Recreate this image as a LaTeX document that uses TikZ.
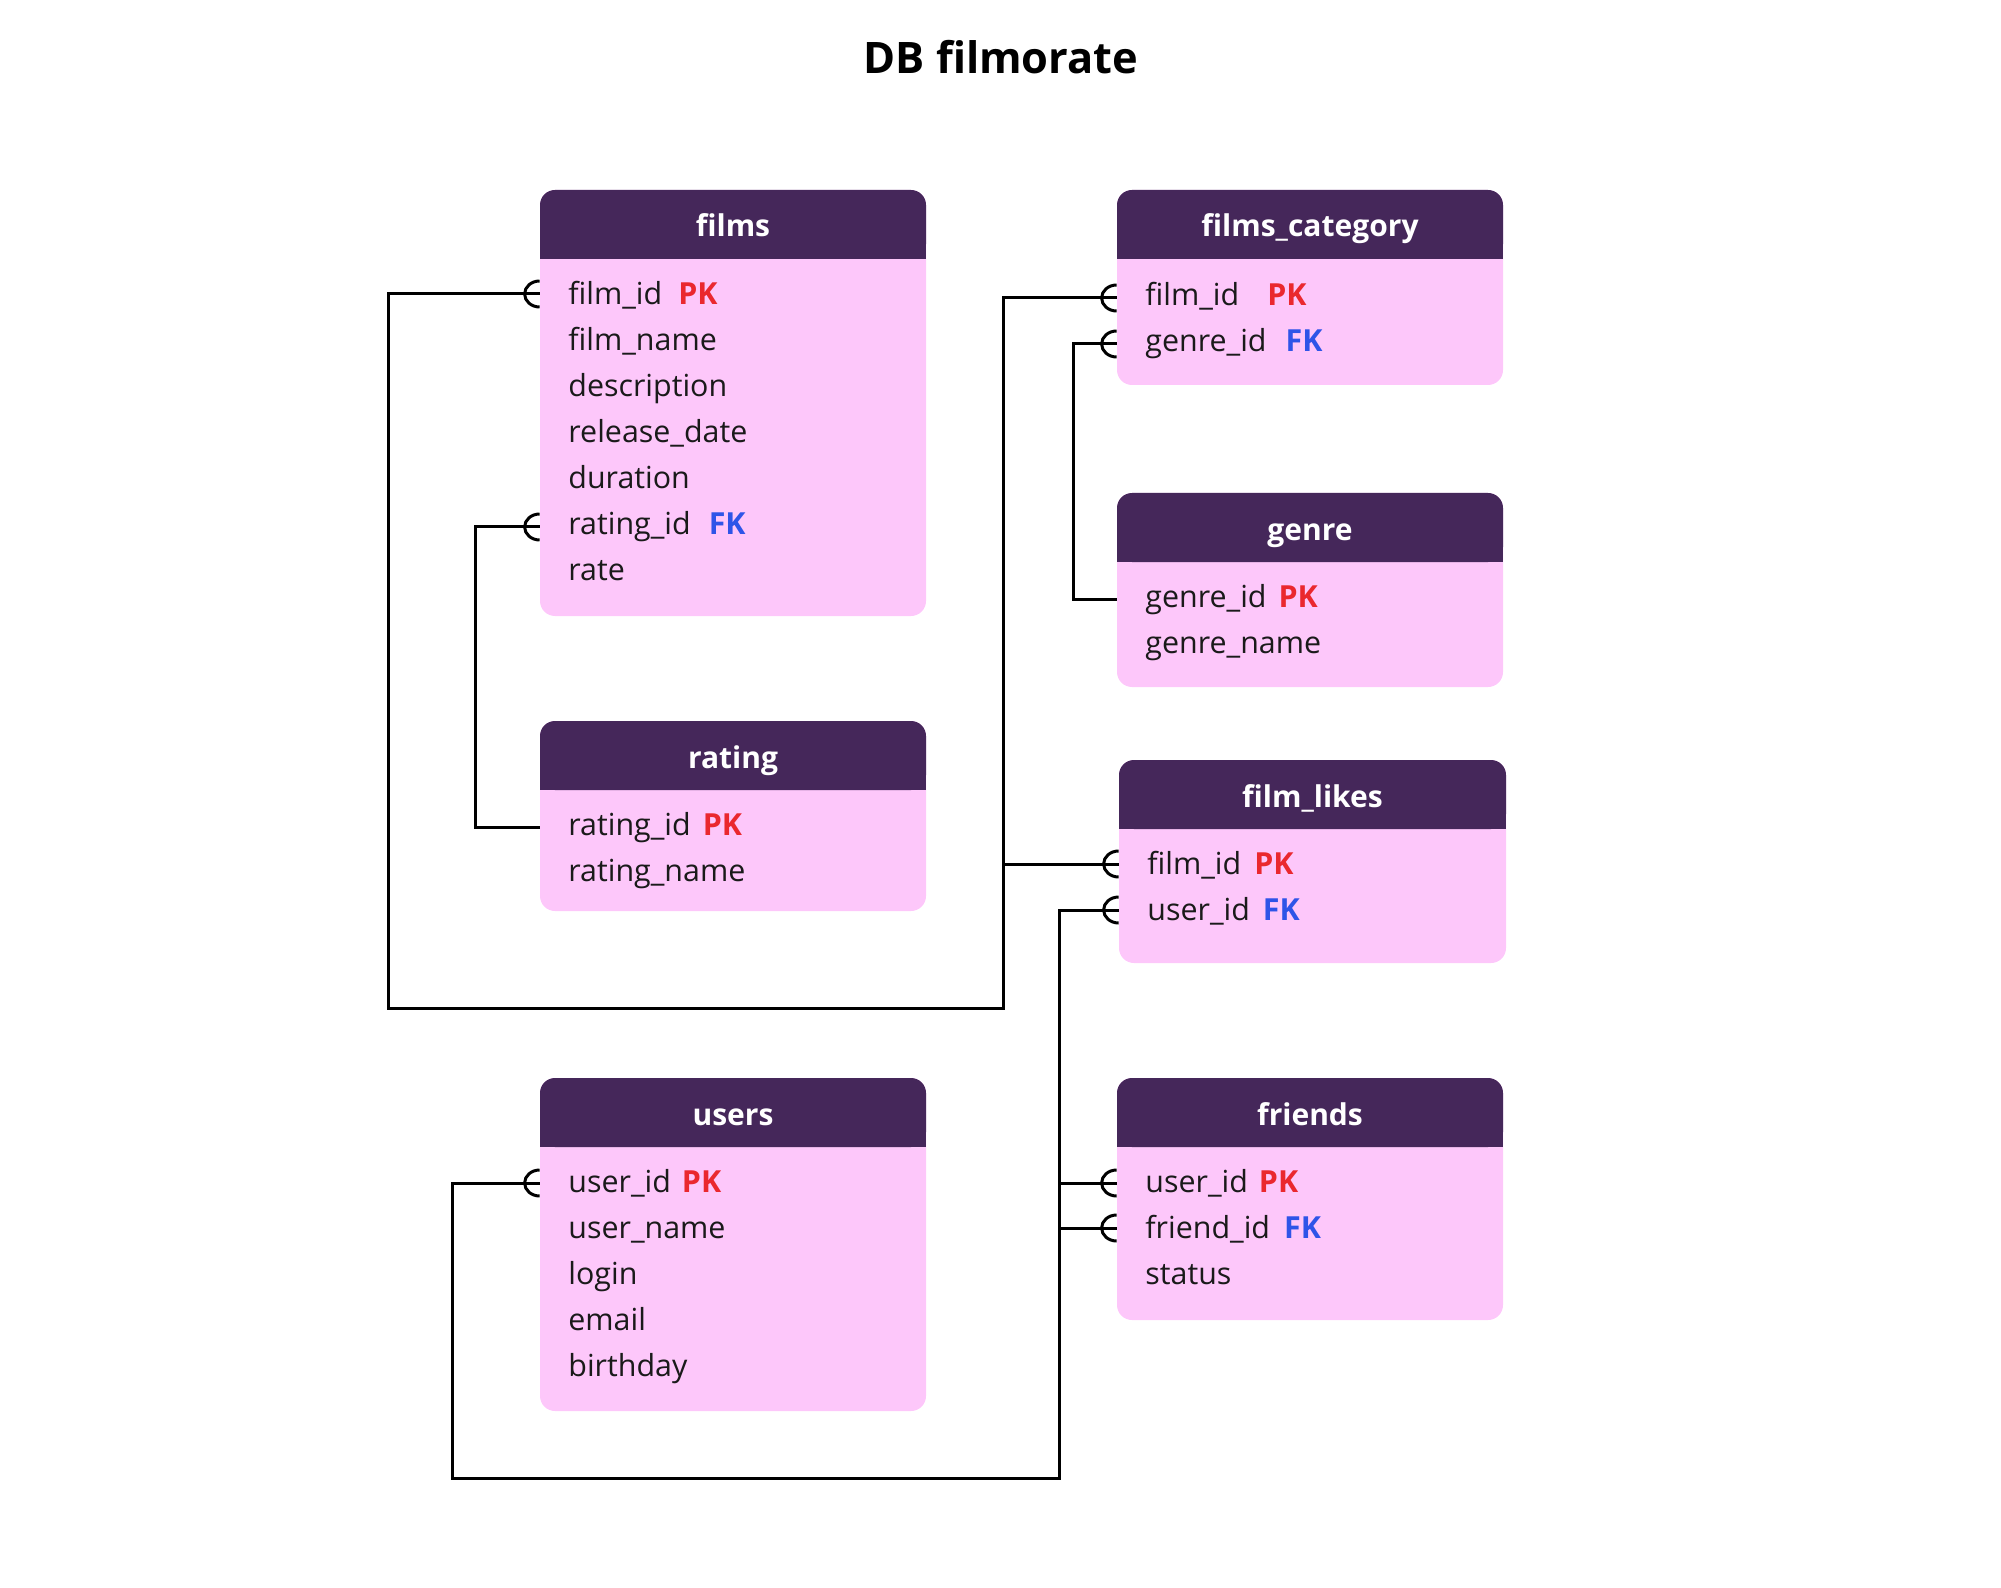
\documentclass[tikz,border=0pt]{standalone}
\usepackage{fontspec}
\setmainfont{Open Sans}
\usetikzlibrary{fit,calc}
\definecolor{hdrc}{HTML}{45275A}
\definecolor{bodyc}{HTML}{FDC7FA}
\definecolor{pkc}{HTML}{EA282E}
\definecolor{fkc}{HTML}{2E54E8}
\definecolor{txtc}{HTML}{1A1A1A}
\newcommand{\PKm}{\textcolor{pkc}{\bfseries PK}}
\newcommand{\FKm}{\textcolor{fkc}{\bfseries FK}}
% #1 name, #2 x1, #3 y1, #4 x2, #5 y2, #6 title
\newcommand{\erTable}[6]{%
  \node[tbl, fit={(#2,#3) (#4,#5)}] (#1) {};
  \fill[hdrc, rounded corners=7.5pt] (#2,#3) rectangle (#4,#3+69);
  \fill[hdrc] (#2,#3+40) rectangle (#4,#3+69);
  \node[hdrtxt] (#1-t) at ({(#2+#4)/2},#3+47) {#6};
}
\newcommand{\crowft}[1]{\draw[crowf] ([yshift=6.5pt]#1) arc[start angle=90,end angle=270,x radius=7.5pt,y radius=6.5pt];}
\begin{document}
\begin{tikzpicture}[x=0.5pt,y=-0.5pt,
  tbl/.style={fill=bodyc, rounded corners=7.5pt, inner sep=0pt, draw=none},
  hdrtxt/.style={text=white, font=\fontsize{15}{18}\selectfont\bfseries, anchor=base, inner sep=0pt},
  rowtxt/.style={text=txtc, font=\fontsize{15.2}{18}\selectfont, anchor=mid west, inner sep=0pt, yshift=-2.5pt},
  conn/.style={line width=1.5pt, black},
  crowf/.style={line width=1.5pt, black}]
\useasboundingbox (0,0) rectangle (2001,1588);

\node[anchor=base, font=\fontsize{21.7}{26}\selectfont\bfseries, inner sep=0pt] (title) at (1001,74) {DB filmorate};

% tables
\erTable{films}{540}{190}{926}{616}{films}
\node[rowtxt] (fr1) at (568,294) {film\_id\hspace{8pt}\PKm};
\node[rowtxt] (fr2) at (568,340) {film\_name};
\node[rowtxt] (fr3) at (568,386) {description};
\node[rowtxt] (fr4) at (568,432) {release\_date};
\node[rowtxt] (fr5) at (568,478) {duration};
\node[rowtxt] (fr6) at (568,524) {rating\_id\hspace{9pt}\FKm};
\node[rowtxt] (fr7) at (568,570) {rate};

\erTable{fcat}{1117}{190}{1503}{385}{films\_category}
\node[rowtxt] (cr1) at (1145,295) {film\_id\hspace{14pt}\PKm};
\node[rowtxt] (cr2) at (1145,341) {genre\_id\hspace{9.5pt}\FKm};

\erTable{genre}{1117}{493}{1503}{687}{genre}
\node[rowtxt] (gr1) at (1145,597) {genre\_id\hspace{6pt}\PKm};
\node[rowtxt] (gr2) at (1145,643) {genre\_name};

\erTable{rating}{540}{721}{926}{911}{rating}
\node[rowtxt] (rr1) at (568,825) {rating\_id\hspace{6pt}\PKm};
\node[rowtxt] (rr2) at (568,871) {rating\_name};

\erTable{flikes}{1119}{760}{1506}{963}{film\_likes}
\node[rowtxt] (lr1) at (1147,864) {film\_id\hspace{6.5pt}\PKm};
\node[rowtxt] (lr2) at (1147,910) {user\_id\hspace{6.5pt}\FKm};

\erTable{friends}{1117}{1078}{1503}{1320}{friends}
\node[rowtxt] (dr1) at (1145,1182) {user\_id\hspace{5.5pt}\PKm};
\node[rowtxt] (dr2) at (1145,1228) {friend\_id\hspace{7pt}\FKm};
\node[rowtxt] (dr3) at (1145,1274) {status};

\erTable{users}{540}{1078}{926}{1411}{users}
\node[rowtxt] (ur1) at (568,1182) {user\_id\hspace{5.5pt}\PKm};
\node[rowtxt] (ur2) at (568,1228) {user\_name};
\node[rowtxt] (ur3) at (568,1274) {login};
\node[rowtxt] (ur4) at (568,1320) {email};
\node[rowtxt] (ur5) at (568,1366) {birthday};

% attachment points (row centre lines)
\coordinate (pf1) at ($(films.west |- fr1.mid west)+(0,-5)$);
\coordinate (pf6) at ($(films.west |- fr6.mid west)+(0,-2)$);
\coordinate (pc1) at ($(fcat.west |- cr1.mid west)+(0,-2)$);
\coordinate (pc2) at ($(fcat.west |- cr2.mid west)+(0,-2)$);
\coordinate (pg1) at ($(genre.west |- gr1.mid west)+(0,-3)$);
\coordinate (pr1) at ($(rating.west |- rr1.mid west)+(0,-3)$);
\coordinate (pl1) at ($(flikes.west |- lr1.mid west)+(0,-5)$);
\coordinate (pl2) at ($(flikes.west |- lr2.mid west)+(0,-5)$);
\coordinate (pd1) at ($(friends.west |- dr1.mid west)+(0,-4)$);
\coordinate (pd2) at ($(friends.west |- dr2.mid west)+(0,-5)$);
\coordinate (pu1) at ($(users.west |- ur1.mid west)+(0,-4)$);

% bends
\coordinate (k1) at (388,1008);
\coordinate (k2) at (1003,1008);
\coordinate (k3) at (475,700);
\coordinate (k4) at (1073,450);
\coordinate (k5) at (452,1478);
\coordinate (k6) at (1059,1478);

% connectors
\draw[conn] (pf1) -| (k1) -- (k2) |- (pc1);
\draw[conn] (k2 |- pl1) -- (pl1);
\draw[conn] (pf6) -| (k3) |- (pr1);
\draw[conn] (pc2) -| (k4) |- (pg1);
\draw[conn] (pu1) -| (k5) -- (k6) |- (pl2);
\draw[conn] (k6 |- pd1) -- (pd1);
\draw[conn] (k6 |- pd2) -- (pd2);

% crow's feet
\crowft{pf1}
\crowft{pf6}
\crowft{pc1}
\crowft{pc2}
\crowft{pl1}
\crowft{pl2}
\crowft{pd1}
\crowft{pd2}
\crowft{pu1}
\end{tikzpicture}
\end{document}
